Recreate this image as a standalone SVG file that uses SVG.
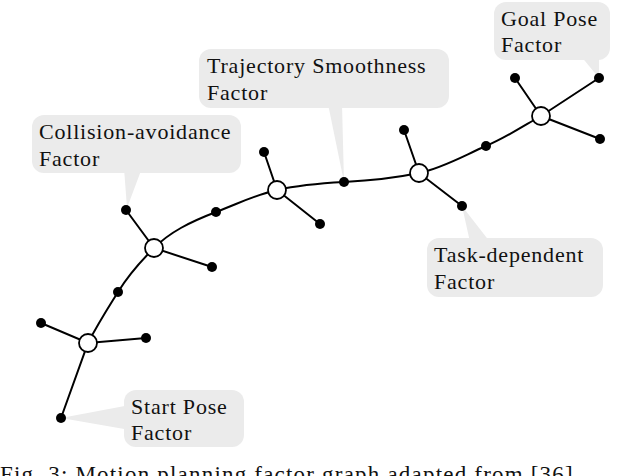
<svg xmlns="http://www.w3.org/2000/svg" width="638" height="476" viewBox="0 0 638 476">
<style>
.box{fill:#ebebeb}
.t{font-family:'Liberation Serif','Times New Roman','DejaVu Serif',serif;font-size:22px;letter-spacing:0.8px;fill:#111}
.e{stroke:#000;stroke-width:2;fill:none}
.v{fill:#fff;stroke:#000;stroke-width:1.8}
.f{fill:#000}
</style>
<rect width="638" height="476" fill="#fff"/>
<g id="callouts">
<g id="start-label"><polygon class="box" points="61,418 130,405 130,430"/><rect class="box" x="124" y="390" width="120" height="57" rx="12"/><text class="t" x="131" y="414">Start Pose</text><text class="t" x="131" y="440">Factor</text></g>
<g id="collision-label"><polygon class="box" points="124,168 142,168 127,208"/><rect class="box" x="32" y="115" width="209" height="58" rx="12"/><text class="t" x="39" y="139">Collision-avoidance</text><text class="t" x="39" y="166">Factor</text></g>
<g id="trajectory-label"><polygon class="box" points="328,104 342,104 344,182"/><rect class="box" x="199" y="49" width="250" height="59" rx="12"/><text class="t" x="207" y="73">Trajectory Smoothness</text><text class="t" x="207" y="100">Factor</text></g>
<g id="goal-label"><polygon class="box" points="580,55 599,55 599,78"/><rect class="box" x="494" y="2" width="116" height="58" rx="12"/><text class="t" x="501" y="26">Goal Pose</text><text class="t" x="501" y="52">Factor</text></g>
<g id="task-label"><polygon class="box" points="462,206 470,242 490,242"/><rect class="box" x="427" y="238" width="176" height="59" rx="12"/><text class="t" x="434" y="262">Task-dependent</text><text class="t" x="434" y="289">Factor</text></g>
</g>
<g id="connectors">
<path class="e" d="M61,418 L88,343 C100,320 110,305 118,292 S138,264 154,248 S190,222 216,212 S255,195 277,190 S325,183 344,182 S395,178 419,173 S465,155 486,146 S525,125 541,116"/>
<path class="e" d="M41,323 L88,343 L146,338 M126,210 L154,248 L212,267 M264,152 L277,190 L320,224 M404,130 L419,173 L462,206 M515,78 L541,116 L599,78 M541,116 L600,139"/>
</g>
<g id="factors">
<circle class="f" cx="61" cy="418" r="5"/><circle class="f" cx="41" cy="323" r="5"/><circle class="f" cx="146" cy="338" r="5"/>
<circle class="f" cx="118" cy="292" r="5"/><circle class="f" cx="126" cy="210" r="5"/><circle class="f" cx="212" cy="267" r="5"/>
<circle class="f" cx="216" cy="212" r="5"/><circle class="f" cx="264" cy="152" r="5"/><circle class="f" cx="320" cy="224" r="5"/>
<circle class="f" cx="344" cy="182" r="5"/><circle class="f" cx="404" cy="130" r="5"/><circle class="f" cx="462" cy="206" r="5"/>
<circle class="f" cx="486" cy="146" r="5"/><circle class="f" cx="515" cy="78" r="5"/><circle class="f" cx="599" cy="78" r="5"/><circle class="f" cx="600" cy="139" r="5"/>
</g>
<g id="variables">
<circle id="x1" class="v" cx="88" cy="343" r="9"/>
<circle id="x2" class="v" cx="154" cy="248" r="9"/>
<circle id="x3" class="v" cx="277" cy="190" r="9"/>
<circle id="x4" class="v" cx="419" cy="173" r="9"/>
<circle id="x5" class="v" cx="541" cy="116" r="9"/>
</g>
<text class="t" x="0" y="482" style="font-size:23px;letter-spacing:1.2px">Fig. 3: Motion planning factor graph adapted from [36].</text>
</svg>
